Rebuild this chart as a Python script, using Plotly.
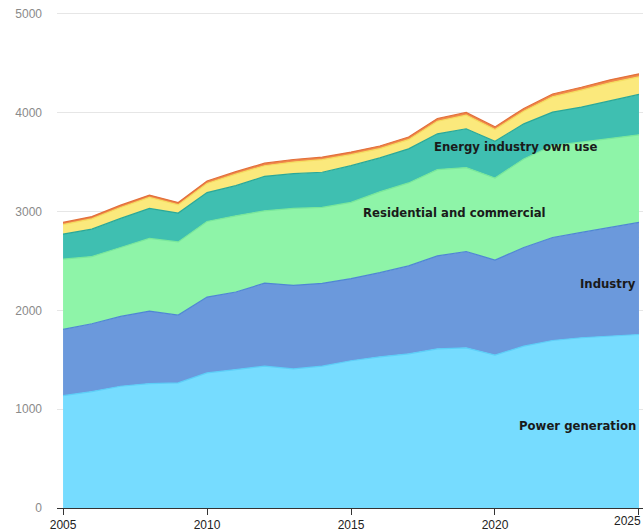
import plotly.graph_objects as go

years = list(range(2005, 2026))

power_generation = [1137, 1178, 1232, 1259, 1266, 1367, 1401, 1435, 1408, 1435, 1490,
                    1530, 1560, 1611, 1621, 1548, 1638, 1695, 1723, 1739, 1756]
industry = [670, 687, 707, 734, 686, 768, 785, 840, 846, 839, 832,
            852, 890, 940, 975, 962, 998, 1043, 1066, 1100, 1134]
residential = [711, 680, 697, 735, 741, 765, 771, 733, 778, 768, 771,
               818, 840, 874, 849, 830, 897, 930, 913, 897, 887]
energy_own_use = [254, 277, 295, 305, 292, 292, 305, 349, 352, 356, 372,
                  343, 345, 362, 393, 372, 355, 339, 356, 389, 409]
other_yellow = [96, 104, 110, 110, 83, 93, 117, 107, 117, 127, 111,
                94, 93, 127, 137, 118, 128, 154, 171, 178, 178]
other_orange = [22, 23, 24, 24, 23, 25, 25, 26, 26, 26, 26,
                27, 27, 28, 28, 27, 28, 29, 29, 30, 30]

layers = [
    ("Power generation", power_generation, "#76dcff", "#5ccff8"),
    ("Industry", industry, "#6b99dc", "#4f86d4"),
    ("Residential and commercial", residential, "#8ef4a8", "#79e89a"),
    ("Energy industry own use", energy_own_use, "#3fbfb1", "#2aa898"),
    ("Other", other_yellow, "#fbe97c", "#f5de60"),
    ("Other 2", other_orange, "#f0884a", "#e2703a"),
]

fig = go.Figure()
for name, vals, fill, edge in layers:
    fig.add_trace(go.Scatter(x=years, y=vals, name=name, mode="lines",
                             stackgroup="one", fillcolor=fill,
                             line=dict(color=edge, width=1.2)))

# labels inside the areas
labels = [
    ("Energy industry own use", 2020.73, 3655, "center"),
    ("Residential and commercial", 2018.58, 2985, "center"),
    ("Industry", 2024.95, 2264, "right"),
    ("Power generation", 2024.95, 832, "right"),
]
for txt, x, y, anchor in labels:
    fig.add_annotation(x=x, y=y, text="<b>" + txt + "</b>", showarrow=False,
                       xanchor=anchor,
                       font=dict(family="DejaVu Sans", size=11.7, color="#1a1a1a"))

# last year label sits on the edge, plotly drops it so put it back by hand
fig.add_annotation(x=years[-1], y=0, yref="paper", text=str(years[-1]),
                   showarrow=False, xanchor="right", xshift=4,
                   yanchor="top", yshift=-4,
                   font=dict(family="Liberation Sans, Arial", size=12, color="#222"))

fig.update_layout(
    width=643, height=531,
    margin=dict(l=57, r=0, t=11, b=23),
    paper_bgcolor="white", plot_bgcolor="white",
    showlegend=False, hovermode=False,
    font=dict(family="Liberation Sans, Arial", size=12),
)
fig.update_xaxes(range=[2004.79, 2025.14], tickvals=[2005, 2010, 2015, 2020, 2025],
                 showgrid=False, showline=True, linecolor="#333", linewidth=1,
                 ticks="outside", ticklen=6, tickcolor="#333",
                 tickfont=dict(color="#222", size=12))
fig.update_yaxes(range=[0, 5030], tickvals=[0, 1000, 2000, 3000, 4000, 5000],
                 showgrid=True, gridcolor="#e6e6e6", zeroline=False,
                 ticklabelstandoff=14, tickfont=dict(color="#8a8a8a", size=12))

# drop the default 8px page margin so the figure fills the window exactly
fig.write_html("out.html", config={"displayModeBar": False},
               post_script="document.body.style.margin='0';")
